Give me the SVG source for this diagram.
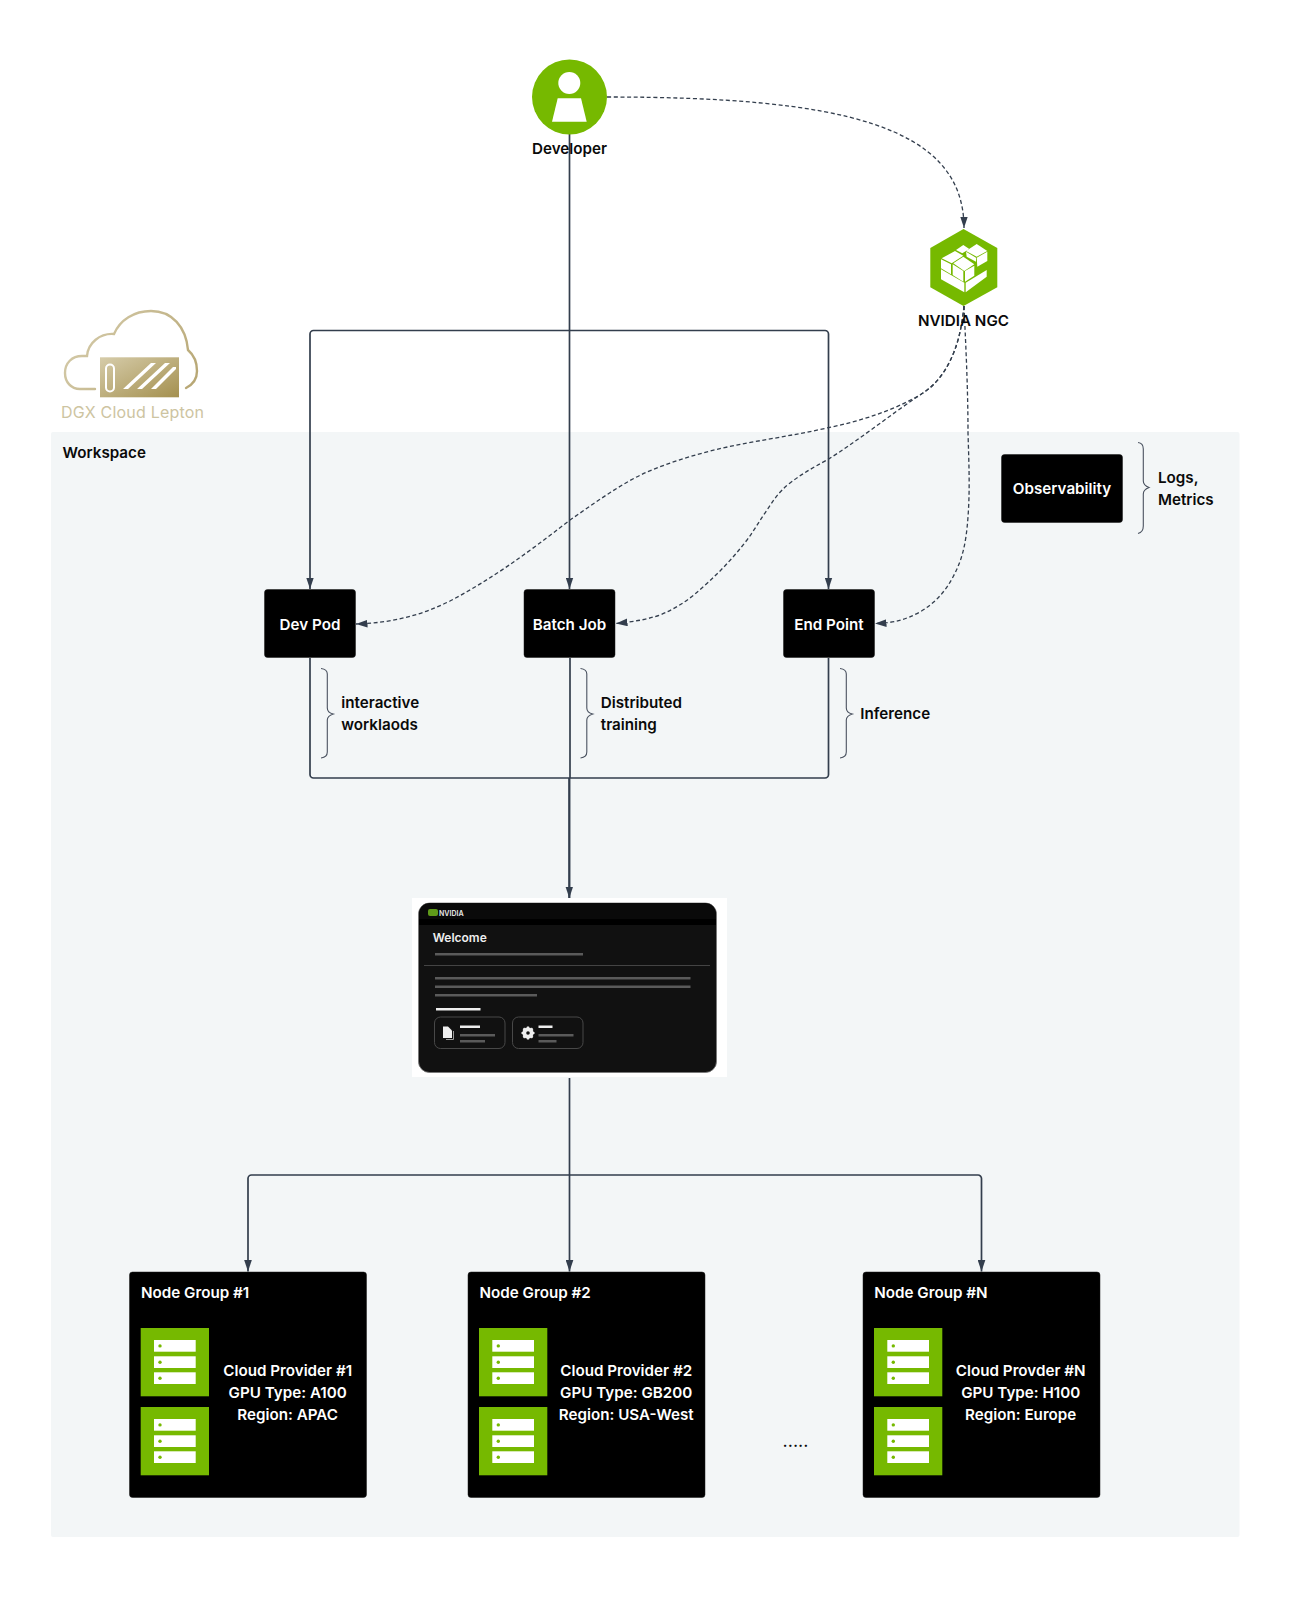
<svg xmlns="http://www.w3.org/2000/svg" width="1289" height="1600" viewBox="0 0 1289 1600">
<style>
text{font-family:Inter,"Noto Sans","Liberation Sans",sans-serif;font-weight:600;font-size:15.2px;fill:#0a0a0a}
.w{fill:#fff}
.m{text-anchor:middle}
.box{fill:#000;stroke:#1a1a1a;stroke-width:.5}
.solid{fill:none;stroke:#333e4d;stroke-width:1.7}
.dash{fill:none;stroke:#333e4d;stroke-width:1.3;stroke-dasharray:4 2.6}
.brace{fill:none;stroke:#4a5260;stroke-width:1.1}
.g{fill:#76b900}
.row{fill:#fff}
.dot{fill:#76b900}
.bar{fill:#5a5a5a}
.wb{fill:#eee}
.btn{fill:none;stroke:#484848;stroke-width:1}
</style>
<defs>
<marker id="a" viewBox="0 0 12 8" markerWidth="11.500" markerHeight="8" refX="12" refY="4" orient="auto" markerUnits="userSpaceOnUse"><path d="M0 0L12 4L0 8Z" fill="#333e4d"/></marker>
<linearGradient id="gold" x1="0" y1="0" x2="1" y2="1"><stop offset="0" stop-color="#d6ccaa"/><stop offset="1" stop-color="#a4904f"/></linearGradient>
<linearGradient id="goldl" gradientUnits="userSpaceOnUse" x1="64" y1="310" x2="197" y2="400"><stop offset="0" stop-color="#d8cfb0"/><stop offset="1" stop-color="#b5a470"/></linearGradient>
<g id="srv">
<rect class="g" width="68.300" height="68.300"/>
<rect class="row" x="13.300" y="12" width="41.700" height="11.700"/><rect class="row" x="13.300" y="28.300" width="41.700" height="11.700"/><rect class="row" x="13.300" y="44.300" width="41.700" height="11.700"/>
<circle class="dot" cx="19.300" cy="17.900" r="1.700"/><circle class="dot" cx="19.300" cy="34.200" r="1.700"/><circle class="dot" cx="19.300" cy="50.200" r="1.700"/>
</g>
</defs>

<rect id="workspace-bg" x="51" y="432" width="1188.500" height="1105" rx="2" fill="#f3f6f7"/>
<text x="62.500" y="458">Workspace</text>

<g id="connectors">
<path class="dash" marker-end="url(#a)" d="M607 97C840 97 964 125 964 228"/>
<path class="dash" marker-end="url(#a)" d="M964 306C960 350 945 380 920 395C890 412 860 421 827 428C800 434 775 438 747 443C715 449 680 458 647 472C620 484 595 503 570 520C525 555 490 580 450 601C420 616 390 623 356 624"/>
<path class="dash" marker-end="url(#a)" d="M964 306C960 350 945 380 920 395C890 415 855 443 827 460C812 468 802 474 790 483C778 492 772 503 767 510C760 520 755 529 747 540C733 558 720 572 703 587C690 599 677 608 660 615C645 620 632 622 616 623.500"/>
<path class="dash" marker-end="url(#a)" d="M964 306C966 350 968 390 968 433C969 465 970 490 968 517C966 545 962 560 953 577C945 592 935 603 920 612C905 620 893 623 875 623.500"/>
<path class="solid" marker-end="url(#a)" d="M569.500 134V589"/>
<path class="solid" marker-end="url(#a)" d="M569.500 330.500H313.500a3.500 3.500 0 0 0-3.500 3.500V589"/>
<path class="solid" marker-end="url(#a)" d="M569.500 330.500H825a3.500 3.500 0 0 1 3.500 3.500V589"/>
<path class="solid" d="M310 658V774.500a3.500 3.500 0 0 0 3.500 3.500H569.500M828.500 658V774.500a3.500 3.500 0 0 1-3.500 3.500H569.500M570 658V778"/>
<path class="solid" style="stroke-width:2.300" marker-end="url(#a)" d="M569.300 778V898"/>
<path class="solid" d="M569.500 1078V1175"/>
<path class="solid" marker-end="url(#a)" d="M569.500 1175V1271.500"/>
<path class="solid" marker-end="url(#a)" d="M569.500 1175H251.500a3.500 3.500 0 0 0-3.500 3.500V1271.500"/>
<path class="solid" marker-end="url(#a)" d="M569.500 1175H978a3.500 3.500 0 0 1 3.500 3.500V1271.500"/>
</g>

<g id="developer">
<circle class="g" cx="569.500" cy="97" r="37.500"/>
<circle cx="569.300" cy="83" r="11" fill="#fff"/>
<path d="M557.700 98.300H581L586.700 121.700H552Z" fill="#fff"/>
<text class="m" x="569.500" y="154">Developer</text>
</g>

<g id="ngc">
<path class="g" d="M963.500 229L997.300 248V287.300L963.500 306L930.300 287.300V248Z"/>
<g fill="#fff">
<path d="M941 269.300L964.300 282.700V292.300L941 279.300Z"/>
<path d="M965.700 282.700L986.700 270V276.700L965.700 292.300Z"/>
<path d="M941.700 258.300L955 251L963.300 255.700L951.700 263.300Z"/>
<path d="M953.300 263.300L963.300 256.700L974.300 264.300L964.300 271Z"/>
<path d="M952.700 264.300L963.300 271V281.700L952.700 275Z"/>
<path d="M965 271L974.300 265.700V275.700L965 281.700Z"/>
<path d="M941 259.300L951 264.300V274.300L941 268.300Z"/>
<path d="M966 251L976.700 244L987.300 251L976.700 256.700Z"/>
<path d="M976.700 257.700L987.300 251.700V261L977.300 266.700Z"/>
<path d="M966 251.700L976 257.700V261.700L966.700 256.700Z"/>
<path d="M956 250L963.300 245L969.300 249L962.300 253.300Z"/>
</g>
<text class="m" x="963.500" y="325.700">NVIDIA NGC</text>
</g>

<g id="logo">
<path fill="none" stroke="url(#goldl)" stroke-width="2.400" stroke-linecap="round" d="M95 389H80C71 389 65 382 65 373C65 363 72 356 82 356H87C88 343 100 333 114 334C120 320 134 311 151 311C172 311 186 327 188 350C195 356 197 364 197 371C197 379 192 385 186 388"/>
<rect x="100" y="357.300" width="79" height="40" fill="url(#gold)"/>
<rect x="106" y="364.500" width="8" height="27" rx="4" fill="none" stroke="#fff" stroke-width="2"/>
<path d="M123 389L151 363H156L128 389ZM137 389L165 363H170L142 389ZM151 389L173 367H176V369L156 389Z" fill="#fff"/>
<text x="61" y="418" style="font-weight:400;font-size:16px;fill:#cdc4a1;letter-spacing:.2px">DGX Cloud Lepton</text>
</g>

<g id="observability">
<rect class="box" x="1001.500" y="454.500" width="121" height="68" rx="3"/>
<text class="m w" x="1062" y="494.300">Observability</text>
<path class="brace" d="M1138 442.500C1142 443 1143.300 445 1143.300 449V481C1143.300 484 1145 486 1149 487.500C1145 489 1143.300 491 1143.300 494V526C1143.300 530 1142 532.500 1138 533.500"/>
<text x="1158" y="483.300">Logs,</text>
<text x="1158" y="504.800">Metrics</text>
</g>

<g id="dev-pod">
<rect class="box" x="264.500" y="589.500" width="91" height="68" rx="3"/>
<text class="m w" x="310" y="629.500">Dev Pod</text>
<path class="brace" d="M321 668.500C325 669 327.300 670 327.300 674V708C327.300 711 329 713 333.300 714C329 715.500 327.300 717 327.300 720V752C327.300 756 325 757.500 321 758"/>
<text x="341.300" y="708.300">interactive</text>
<text x="341.300" y="730">worklaods</text>
</g>

<g id="batch-job">
<rect class="box" x="524" y="589.500" width="91" height="68" rx="3"/>
<text class="m w" x="569.500" y="629.500">Batch Job</text>
<path class="brace" d="M580.500 668.500C584.500 669 586.800 670 586.800 674V708C586.800 711 588.500 713 592.800 714C588.500 715.500 586.800 717 586.800 720V752C586.800 756 584.500 757.500 580.500 758"/>
<text x="600.800" y="708.300">Distributed</text>
<text x="600.800" y="730">training</text>
</g>

<g id="end-point">
<rect class="box" x="783.500" y="589.500" width="91" height="68" rx="3"/>
<text class="m w" x="829" y="629.500">End Point</text>
<path class="brace" d="M840 668.500C844 669 846.300 670 846.300 674V708C846.300 711 848 713 852.300 714C848 715.500 846.300 717 846.300 720V752C846.300 756 844 757.500 840 758"/>
<text x="860.300" y="719">Inference</text>
</g>

<g id="console">
<rect x="412" y="898" width="315" height="179" fill="#fff"/>
<rect x="418.500" y="903" width="298" height="169.500" rx="11" fill="#111" stroke="#777" stroke-width=".8"/>
<rect x="419" y="919" width="297" height="6" fill="#000"/>
<path d="M419 919V914a11 11 0 0 1 11-11H705a11 11 0 0 1 11 11V919Z" fill="#0a0a0a"/>
<rect x="428" y="909" width="10" height="7" rx="2" fill="#5f9a1a"/>
<text x="439" y="915.500" style="font-size:7px;font-weight:700;fill:#ddd">NVIDIA</text>
<text x="432.700" y="942" style="font-size:12px;fill:#eee">Welcome</text>
<rect class="bar" x="435" y="953" width="148" height="2.500"/>
<rect x="424" y="965" width="286" height="1" fill="#444"/>
<rect class="bar" x="435" y="977" width="255.500" height="2.500"/>
<rect class="bar" x="435" y="985.500" width="255.500" height="2.500"/>
<rect class="bar" x="435" y="994" width="102" height="2.500"/>
<rect class="wb" x="436" y="1008" width="44.500" height="2.500"/>
<rect class="btn" x="434.500" y="1017" width="70.500" height="31.500" rx="6"/>
<rect class="btn" x="512.500" y="1017" width="70.500" height="31.500" rx="6"/>
<path d="M443 1026.500H448L452 1030.500V1038H443Z" fill="#eee"/><path d="M453.500 1031V1039.500H446" fill="none" stroke="#999" stroke-width="1"/>
<rect class="wb" x="460" y="1025.500" width="20" height="2.500"/>
<rect class="bar" x="460" y="1034" width="35" height="2.500"/>
<rect class="bar" x="460" y="1040" width="25" height="2.500"/>
<circle cx="528" cy="1033" r="4.200" fill="none" stroke="#eee" stroke-width="3"/>
<path d="M528 1026.500V1039.500M521.500 1033H534.500M523.400 1028.400L532.600 1037.600M532.600 1028.400L523.400 1037.600" stroke="#eee" stroke-width="2.200"/>
<circle cx="528" cy="1033" r="1.800" fill="#111"/>
<rect class="wb" x="538.500" y="1025.500" width="14" height="2.500"/>
<rect class="bar" x="538.500" y="1034" width="35" height="2.500"/>
<rect class="bar" x="538.500" y="1040" width="18" height="2.500"/>
</g>

<g id="node-group-1">
<rect class="box" x="129.500" y="1272" width="237" height="225.500" rx="3"/>
<text class="w" x="141" y="1298">Node Group #1</text>
<use href="#srv" x="140.700" y="1328"/><use href="#srv" x="140.700" y="1407"/>
<text class="m w" x="287.700" y="1376">Cloud Provider #1</text>
<text class="m w" x="287.700" y="1398">GPU Type: A100</text>
<text class="m w" x="287.700" y="1420">Region: APAC</text>
</g>
<g id="node-group-2">
<rect class="box" x="468" y="1272" width="237" height="225.500" rx="3"/>
<text class="w" x="479.500" y="1298">Node Group #2</text>
<use href="#srv" x="479" y="1328"/><use href="#srv" x="479" y="1407"/>
<text class="m w" x="626.200" y="1376">Cloud Provider #2</text>
<text class="m w" x="626.200" y="1398">GPU Type: GB200</text>
<text class="m w" x="626.200" y="1420">Region: USA-West</text>
</g>
<g id="node-group-n">
<rect class="box" x="863" y="1272" width="237" height="225.500" rx="3"/>
<text class="w" x="874.300" y="1298">Node Group #N</text>
<use href="#srv" x="874" y="1328"/><use href="#srv" x="874" y="1407"/>
<text class="m w" x="1020.700" y="1376">Cloud Provder #N</text>
<text class="m w" x="1020.700" y="1398">GPU Type: H100</text>
<text class="m w" x="1020.700" y="1420">Region: Europe</text>
</g>
<text class="m" x="795.500" y="1447" style="font-weight:400;font-size:18px">.....</text>
</svg>
